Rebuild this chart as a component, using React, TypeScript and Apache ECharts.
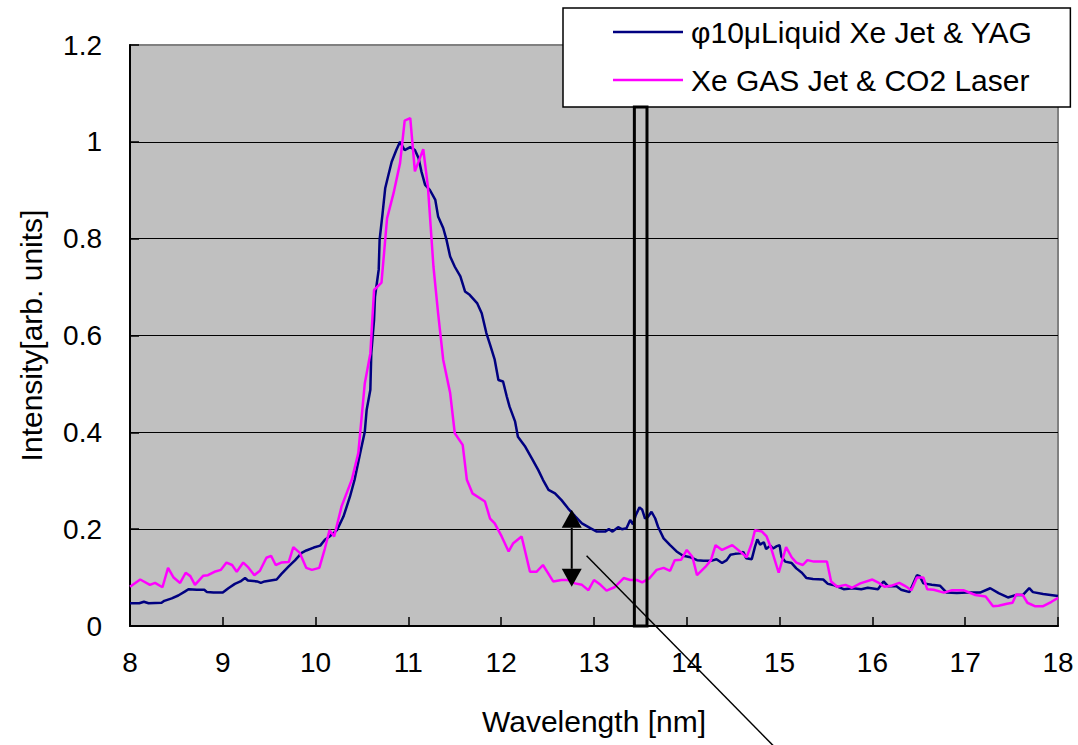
import React, { useEffect, useRef } from "react";
import * as echarts from "echarts";

// φ10μ Liquid Xe jet & YAG (navy)
const liquidWavelength = [
  8.0, 8.1, 8.15, 8.2, 8.34, 8.37, 8.45, 8.52, 8.59, 8.63, 8.72, 8.8, 8.83, 8.9, 9.0, 9.06, 9.13, 9.19, 9.24, 9.27,
  9.37, 9.41, 9.45, 9.58, 9.63, 9.71, 9.78, 9.85, 9.9, 9.98, 10.05, 10.1, 10.15, 10.23, 10.3, 10.37, 10.42, 10.48,
  10.53, 10.55, 10.59, 10.6, 10.63, 10.64, 10.68, 10.69, 10.72, 10.75, 10.78, 10.82, 10.87, 10.91, 10.96, 11.02,
  11.07, 11.11, 11.14, 11.18, 11.23, 11.29, 11.32, 11.375, 11.41, 11.45, 11.5, 11.56, 11.61, 11.66, 11.74, 11.79,
  11.84, 11.88, 11.93, 11.97, 12.02, 12.06, 12.09, 12.15, 12.18, 12.26, 12.33, 12.4, 12.45, 12.51, 12.58, 12.65,
  12.72, 12.8, 12.87, 12.96, 13.03, 13.12, 13.16, 13.2, 13.26, 13.3, 13.35, 13.39, 13.42, 13.45, 13.49, 13.52,
  13.55, 13.58, 13.62, 13.66, 13.69, 13.75, 13.82, 13.89, 13.96, 14.04, 14.11, 14.18, 14.27, 14.32, 14.38, 14.43,
  14.47, 14.52, 14.58, 14.61, 14.64, 14.7, 14.735, 14.76, 14.79, 14.83, 14.855, 14.9, 14.93, 14.97, 15.0, 15.02,
  15.06, 15.13, 15.18, 15.24, 15.29, 15.36, 15.47, 15.52, 15.59, 15.69, 15.79, 15.88, 15.95, 16.06, 16.12, 16.17,
  16.26, 16.31, 16.4, 16.48, 16.51, 16.55, 16.64, 16.73, 16.8, 16.91, 17.02, 17.16, 17.27, 17.36, 17.46, 17.55,
  17.62, 17.69, 17.73, 17.84, 18.0,
];
const liquidIntensity = [
  0.047, 0.047, 0.05, 0.047, 0.048, 0.052, 0.057, 0.063, 0.071, 0.076, 0.075, 0.075, 0.07, 0.069, 0.069, 0.078, 0.087,
  0.092, 0.099, 0.094, 0.092, 0.089, 0.092, 0.096, 0.107, 0.123, 0.136, 0.151, 0.156, 0.162, 0.166, 0.178, 0.185,
  0.198, 0.226, 0.267, 0.302, 0.357, 0.401, 0.446, 0.488, 0.563, 0.632, 0.68, 0.736, 0.798, 0.849, 0.904, 0.928,
  0.959, 0.983, 1.0, 0.983, 0.989, 0.983, 0.966, 0.939, 0.911, 0.901, 0.88, 0.846, 0.822, 0.798, 0.763, 0.742,
  0.722, 0.691, 0.684, 0.667, 0.646, 0.605, 0.581, 0.55, 0.508, 0.505, 0.474, 0.453, 0.422, 0.391, 0.37, 0.346,
  0.322, 0.302, 0.281, 0.274, 0.26, 0.243, 0.226, 0.212, 0.202, 0.195, 0.195, 0.2, 0.195, 0.204, 0.2, 0.202, 0.219,
  0.21, 0.229, 0.245, 0.24, 0.222, 0.225, 0.236, 0.222, 0.205, 0.181, 0.167, 0.154, 0.145, 0.142, 0.136, 0.135,
  0.135, 0.138, 0.13, 0.136, 0.147, 0.149, 0.15, 0.153, 0.14, 0.138, 0.164, 0.179, 0.168, 0.173, 0.159, 0.166, 0.16,
  0.165, 0.167, 0.143, 0.133, 0.13, 0.119, 0.11, 0.099, 0.097, 0.096, 0.087, 0.084, 0.076, 0.078, 0.076, 0.079,
  0.076, 0.092, 0.082, 0.082, 0.075, 0.07, 0.105, 0.103, 0.088, 0.085, 0.083, 0.069, 0.068, 0.069, 0.069, 0.078,
  0.068, 0.059, 0.064, 0.064, 0.078, 0.07, 0.066, 0.062,
];

// Xe gas jet & CO2 laser (magenta)
const gasWavelength = [
  8.0, 8.11, 8.215, 8.27, 8.35, 8.41, 8.47, 8.54, 8.6, 8.65, 8.7, 8.79, 8.84, 8.91, 8.98, 9.04, 9.1, 9.15, 9.22,
  9.275, 9.34, 9.4, 9.47, 9.52, 9.57, 9.63, 9.71, 9.76, 9.83, 9.9, 9.96, 10.04, 10.1, 10.15, 10.2, 10.28, 10.39,
  10.46, 10.53, 10.59, 10.63, 10.71, 10.77, 10.84, 10.91, 10.96, 11.02, 11.07, 11.16, 11.21, 11.27, 11.32, 11.375,
  11.45, 11.5, 11.585, 11.63, 11.69, 11.825, 11.88, 11.93, 12.005, 12.08, 12.13, 12.22, 12.31, 12.38, 12.45, 12.56,
  12.65, 12.72, 12.795, 12.87, 12.94, 13.0, 13.07, 13.135, 13.22, 13.32, 13.39, 13.46, 13.52, 13.6, 13.675, 13.75,
  13.82, 13.87, 13.94, 14.0, 14.06, 14.11, 14.2, 14.26, 14.31, 14.38, 14.49, 14.58, 14.645, 14.7, 14.735, 14.81,
  14.86, 14.91, 14.99, 15.07, 15.13, 15.18, 15.25, 15.3, 15.37, 15.51, 15.555, 15.62, 15.71, 15.78, 15.87, 16.0,
  16.07, 16.13, 16.2, 16.29, 16.35, 16.42, 16.48, 16.55, 16.59, 16.66, 16.77, 16.86, 16.98, 17.11, 17.22, 17.3,
  17.36, 17.45, 17.51, 17.55, 17.62, 17.67, 17.75, 17.84, 17.93, 18.0,
];
const gasIntensity = [
  0.081, 0.096, 0.085, 0.089, 0.08, 0.12, 0.1, 0.089, 0.11, 0.103, 0.085, 0.104, 0.105, 0.112, 0.116, 0.131, 0.126,
  0.112, 0.131, 0.121, 0.105, 0.114, 0.141, 0.145, 0.126, 0.131, 0.132, 0.163, 0.151, 0.12, 0.116, 0.12, 0.16, 0.198,
  0.185, 0.247, 0.302, 0.357, 0.501, 0.563, 0.694, 0.709, 0.842, 0.894, 0.956, 1.044, 1.049, 0.939, 0.985, 0.908,
  0.742, 0.646, 0.55, 0.481, 0.398, 0.374, 0.302, 0.274, 0.257, 0.222, 0.212, 0.185, 0.154, 0.171, 0.185, 0.112,
  0.112, 0.126, 0.092, 0.095, 0.095, 0.088, 0.085, 0.074, 0.095, 0.085, 0.073, 0.08, 0.099, 0.095, 0.095, 0.09,
  0.099, 0.116, 0.12, 0.114, 0.136, 0.137, 0.157, 0.143, 0.105, 0.122, 0.136, 0.167, 0.157, 0.167, 0.153, 0.142,
  0.171, 0.198, 0.195, 0.185, 0.16, 0.11, 0.163, 0.142, 0.131, 0.126, 0.136, 0.133, 0.133, 0.092, 0.081, 0.085,
  0.079, 0.088, 0.096, 0.089, 0.081, 0.083, 0.089, 0.083, 0.074, 0.1, 0.1, 0.076, 0.075, 0.069, 0.074, 0.074, 0.064,
  0.061, 0.041, 0.042, 0.046, 0.048, 0.065, 0.064, 0.048, 0.041, 0.041, 0.05, 0.058,
];

const seriesNames = ["φ10μLiquid Xe Jet & YAG", "Xe GAS Jet & CO2 Laser"];
const xTitle = "Wavelength [nm]";
const yTitle = "Intensity[arb. units]";

// Annotations (data coordinates)
const boxWavelengths = [13.435, 13.571];
const boxIntensityRange = [0, 1.072];
const arrowWavelength = 12.76;
const arrowIntensityRange = [0.081, 0.24];
const pointerStart = [12.92, 0.145];
const pointerEnd = [15.1, -0.28];

const FONT = '"Liberation Sans", Arial, sans-serif';

export default function App() {
  const ref = useRef<HTMLDivElement>(null);

  useEffect(() => {
    if (!ref.current) return;
    const chart = echarts.init(ref.current, undefined, { renderer: "svg" });
    const liquid = liquidWavelength.map((w, i) => [w, liquidIntensity[i]]);
    const gas = gasWavelength.map((w, i) => [w, gasIntensity[i]]);

    chart.setOption({
      animation: false,
      backgroundColor: "#ffffff",
      textStyle: { fontFamily: FONT },
      grid: {
        left: 130,
        right: 20,
        top: 45,
        bottom: 119,
        show: true,
        backgroundColor: "#C0C0C0",
        borderColor: "#808080",
        borderWidth: 2,
      },
      legend: {
        data: seriesNames,
        orient: "vertical",
        left: 563,
        top: 8,
        icon: "rect",
        itemWidth: 70,
        itemHeight: 2.5,
        itemGap: 18,
        padding: [9, 38, 12, 50],
        backgroundColor: "#ffffff",
        borderColor: "#000000",
        borderWidth: 1.5,
        textStyle: { fontSize: 30, color: "#000", fontFamily: FONT, padding: [0, 0, 0, 3] },
      },
      xAxis: {
        type: "value",
        min: 8,
        max: 18,
        interval: 1,
        name: xTitle,
        nameLocation: "middle",
        nameGap: 80,
        nameTextStyle: { fontSize: 30, color: "#000", fontFamily: FONT },
        axisLine: { show: true, onZero: false, lineStyle: { color: "#000", width: 2 } },
        axisTick: { show: true, inside: true, length: 9, lineStyle: { color: "#000", width: 1.5 } },
        axisLabel: { fontSize: 28, color: "#000", margin: 22, fontFamily: FONT },
        splitLine: { show: false },
      },
      yAxis: {
        type: "value",
        min: 0,
        max: 1.2,
        interval: 0.2,
        name: yTitle,
        nameLocation: "middle",
        nameGap: 84,
        nameTextStyle: { fontSize: 30, color: "#000", fontFamily: FONT },
        axisLine: { show: true, lineStyle: { color: "#000", width: 2 } },
        axisTick: { show: true, inside: true, length: 9, lineStyle: { color: "#000", width: 1.5 } },
        axisLabel: { fontSize: 28, color: "#000", margin: 28, fontFamily: FONT },
        splitLine: {
          show: true,
          lineStyle: {
            color: ["#000", "#000", "#000", "#000", "#000", "#000", "#808080"],
            width: 1,
          },
        },
      },
      series: [
        {
          name: seriesNames[0],
          type: "line",
          data: liquid,
          symbol: "none",
          showSymbol: false,
          lineStyle: { color: "#000080", width: 2.5 },
          itemStyle: { color: "#000080" },
          z: 3,
        },
        {
          name: seriesNames[1],
          type: "line",
          data: gas,
          symbol: "none",
          showSymbol: false,
          lineStyle: { color: "#FF00FF", width: 2.5 },
          itemStyle: { color: "#FF00FF" },
          z: 4,
        },
      ],
    });

    const px = (pt: number[]) => chart.convertToPixel({ gridIndex: 0 }, pt) as number[];
    const b0 = px([boxWavelengths[0], boxIntensityRange[1]]);
    const b1 = px([boxWavelengths[1], boxIntensityRange[0]]);
    const aTop = px([arrowWavelength, arrowIntensityRange[1]]);
    const aBot = px([arrowWavelength, arrowIntensityRange[0]]);
    const s0 = px(pointerStart);
    const s1 = px(pointerEnd);
    const headW = 10;
    const headH = 18;

    chart.setOption({
      graphic: [
        {
          type: "rect",
          z: 100,
          shape: { x: b0[0], y: b0[1], width: b1[0] - b0[0], height: b1[1] - b0[1] },
          style: { fill: "none", stroke: "#000", lineWidth: 3 },
        },
        {
          type: "line",
          z: 100,
          shape: { x1: aTop[0], y1: aTop[1] + headH, x2: aBot[0], y2: aBot[1] - headH },
          style: { stroke: "#000", lineWidth: 2 },
        },
        {
          type: "polygon",
          z: 100,
          shape: {
            points: [
              [aTop[0], aTop[1]],
              [aTop[0] - headW, aTop[1] + headH],
              [aTop[0] + headW, aTop[1] + headH],
            ],
          },
          style: { fill: "#000" },
        },
        {
          type: "polygon",
          z: 100,
          shape: {
            points: [
              [aBot[0], aBot[1]],
              [aBot[0] - headW, aBot[1] - headH],
              [aBot[0] + headW, aBot[1] - headH],
            ],
          },
          style: { fill: "#000" },
        },
        {
          type: "line",
          z: 100,
          shape: { x1: s0[0], y1: s0[1], x2: s1[0], y2: s1[1] },
          style: { stroke: "#000", lineWidth: 1.5 },
        },
      ],
    });

    return () => chart.dispose();
  }, []);

  return (
    <div
      ref={ref}
      style={{ position: "fixed", left: 0, top: 0, width: 1078, height: 745, background: "#fff" }}
    />
  );
}
